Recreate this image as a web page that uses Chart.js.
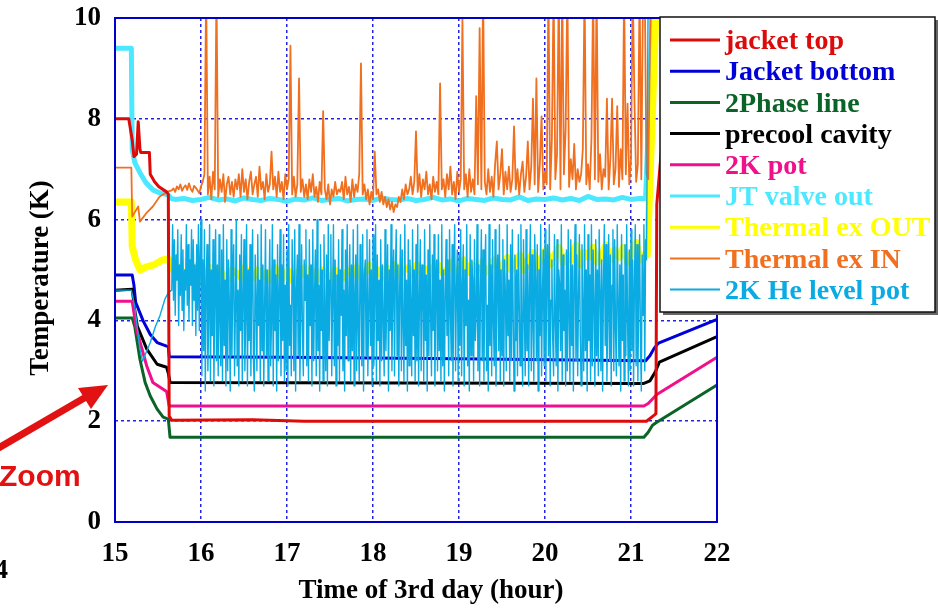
<!DOCTYPE html>
<html lang="en">
<head>
    <meta charset="UTF-8">
    <title>Cryomodule temperatures - 3rd day</title>
    <script src="https://cdn.jsdelivr.net/npm/chart.js"></script>
    <style>
        html, body { margin: 0; padding: 0; background: #fff; }
        .wrap { width: 938px; height: 609px; position: relative; }
    </style>
</head>
<body>
<div class="wrap"><canvas id="tempChart" width="938" height="609"></canvas></div>
<script>
// ---------- axes ----------
const xTicks = [15, 16, 17, 18, 19, 20, 21, 22];
const yTicks = [0, 2, 4, 6, 8, 10];

// ---------- smooth sensors (time in hour, value in K) ----------
const jacketTopT = [15.0, 15.16, 15.2, 15.22, 15.25, 15.27, 15.29, 15.3, 15.4, 15.41, 15.46, 15.51, 15.6, 15.62, 15.63, 15.66, 16.6, 17.2, 18.5, 21.18, 21.27, 21.29, 21.3, 21.36, 22.0];
const jacketTopK = [8.0, 8.0, 7.58, 7.25, 7.3, 7.94, 7.4, 7.33, 7.33, 6.9, 6.75, 6.65, 6.55, 6.5, 2.1, 2.02, 2.03, 2.0, 2.0, 2.0, 2.12, 2.15, 6.3, 7.5, 7.8];

const jacketBottomT = [15.0, 15.2, 15.22, 15.24, 15.33, 15.41, 15.49, 15.6, 15.62, 15.63, 17.0, 19.0, 21.17, 21.22, 21.27, 21.32, 22.0];
const jacketBottomK = [4.9, 4.9, 4.7, 4.36, 3.98, 3.72, 3.56, 3.49, 3.48, 3.28, 3.27, 3.24, 3.2, 3.3, 3.45, 3.55, 4.02];

const twoPhaseT = [15.0, 15.2, 15.23, 15.29, 15.35, 15.41, 15.49, 15.56, 15.62, 15.64, 21.15, 21.2, 21.25, 21.3, 22.0];
const twoPhaseK = [4.05, 4.05, 3.88, 3.23, 2.77, 2.5, 2.24, 2.08, 2.04, 1.68, 1.68, 1.78, 1.92, 1.98, 2.72];

const precoolT = [15.0, 15.2, 15.23, 15.26, 15.37, 15.49, 15.6, 15.62, 15.64, 21.15, 21.22, 21.28, 21.33, 22.0];
const precoolK = [4.6, 4.62, 4.2, 3.88, 3.43, 3.13, 3.07, 2.95, 2.77, 2.75, 2.8, 2.97, 3.17, 3.68];

const pot2kT = [15.0, 15.2, 15.25, 15.37, 15.44, 15.6, 15.63, 21.15, 21.2, 21.3, 22.0];
const pot2kK = [4.38, 4.38, 3.82, 3.09, 2.77, 2.59, 2.3, 2.3, 2.35, 2.53, 3.27];

// ---------- JT valve out: cool-down, logged plateau (every 0.1 h), warm-up ----------
const jtHeadT = [15.0, 15.19, 15.2, 15.23, 15.29, 15.36, 15.44, 15.52, 15.62, 15.65];
const jtHeadK = [9.4, 9.4, 7.4, 7.13, 6.93, 6.73, 6.59, 6.53, 6.49, 6.42];
const jtStart = 15.7, jtStep = 0.1;
const jtK = [
    6.40, 6.42, 6.38, 6.40, 6.44, 6.39, 6.41, 6.37, 6.43, 6.40,
    6.38, 6.42, 6.40, 6.36, 6.41, 6.39, 6.43, 6.38, 6.40, 6.42,
    6.37, 6.40, 6.41, 6.38, 6.43, 6.40, 6.39, 6.42, 6.38, 6.40,
    6.44, 6.39, 6.41, 6.37, 6.42, 6.40, 6.38, 6.43, 6.40, 6.39,
    6.45, 6.38, 6.41, 6.40, 6.43, 6.39, 6.42, 6.38, 6.46, 6.40,
    6.41, 6.39, 6.44, 6.40, 6.42
];
const jtTailT = [21.17, 21.26];
const jtTailK = [6.42, 10.6];

// ---------- Thermal ex OUT (every 0.05 h) ----------
const hxOutHeadT = [15.0, 15.19, 15.2, 15.24, 15.29, 15.35, 15.45, 15.55, 15.62];
const hxOutHeadK = [6.35, 6.35, 5.47, 5.2, 5.0, 5.05, 5.1, 5.2, 5.22];
const hxOutStart = 15.66, hxOutStep = 0.05;
const hxOutK = [
    5.10, 4.85, 5.05, 4.80, 5.00, 4.90, 5.10, 4.80, 4.95, 5.05, 4.85, 5.00, 4.90, 4.80, 5.00, 4.95, 4.85, 5.05, 4.90, 4.85,
    5.00, 4.85, 4.95, 4.80, 5.05, 4.90, 4.85, 5.00, 4.80, 4.95, 4.90, 5.05, 4.85, 4.95, 4.80, 5.00, 4.90, 4.85, 5.00, 4.95,
    4.85, 5.00, 4.90, 5.05, 4.85, 4.95, 5.10, 4.90, 5.00, 4.85, 5.05, 4.95, 5.10, 4.90, 5.00, 5.05, 4.90, 5.10, 4.95, 5.00,
    5.05, 4.90, 5.10, 4.95, 5.00, 5.15, 4.90, 5.05, 5.20, 4.95, 5.10, 5.00, 5.15, 4.95, 5.05, 5.20, 5.00, 5.10, 5.25, 5.00,
    5.15, 5.30, 5.00, 5.20, 5.35, 5.05, 5.25, 5.40, 5.10, 5.30, 5.45, 5.15, 5.30, 5.20, 5.50, 5.10, 5.35, 5.25, 5.45, 5.15,
    5.30, 5.50, 5.20, 5.40, 5.25, 5.45, 5.15, 5.35, 5.55, 5.20, 5.30
];
const hxOutTailT = [21.19, 21.3];
const hxOutTailK = [5.3, 10.6];

// ---------- Thermal ex IN (every 0.02 h from 15.66) ----------
const hxInHeadT = [15.0, 15.19, 15.2, 15.27, 15.29, 15.37, 15.44, 15.52, 15.62];
const hxInHeadK = [7.03, 7.03, 6.06, 6.26, 5.96, 6.14, 6.26, 6.46, 6.56];
const hxInStart = 15.66, hxInStep = 0.02;
const hxInK = [
    6.58, 6.62, 6.55, 6.66, 6.60, 6.70, 6.57, 6.64, 6.68, 6.59, 6.72, 6.61, 6.55, 6.67, 6.63, 6.58, 6.52, 6.66,
    6.75, 6.90, 10.6, 6.50, 6.85, 6.40, 6.95, 6.60, 10.6, 6.45, 6.80, 6.55, 6.90, 6.35, 6.70, 6.85, 6.50, 6.75, 6.45, 6.80,
    6.60, 6.90, 6.45, 7.00, 6.55, 6.80, 6.40, 6.75, 6.95, 6.50, 6.70, 6.85, 6.45, 7.05, 6.60, 6.75, 6.40, 6.90, 6.55, 6.70,
    7.35, 6.60, 6.85, 6.45, 6.95, 6.55, 6.75, 6.40, 6.90, 6.60, 6.80, 9.45, 6.50, 6.85, 6.45, 6.70, 8.80, 6.55, 6.80, 6.45,
    6.70, 6.40, 6.80, 6.55, 6.90, 6.45, 6.65, 6.35, 6.75, 6.50, 8.15, 6.60, 6.40, 6.70, 6.30, 6.60, 6.45, 6.75, 6.50, 6.60,
    6.55, 6.75, 6.40, 6.85, 6.50, 6.65, 6.35, 6.80, 6.45, 6.70, 6.55, 6.90, 9.10, 6.50, 6.70, 6.40, 6.60, 6.30, 6.55, 6.40,
    7.35, 6.50, 6.60, 6.35, 6.55, 6.30, 6.45, 6.25, 6.40, 6.20, 6.35, 6.15, 6.30, 6.25, 6.45, 6.35, 6.60, 6.40, 6.70, 6.50,
    6.60, 6.85, 6.50, 6.75, 7.75, 6.55, 6.90, 6.45, 6.80, 6.60, 6.95, 6.50, 6.70, 6.40, 6.85, 6.55, 6.75, 6.50, 8.70, 6.60,
    6.80, 6.45, 6.90, 6.60, 7.05, 6.50, 6.75, 6.40, 6.95, 6.55, 6.80, 10.0, 6.60, 6.90, 6.45, 7.00, 6.55, 6.80, 6.50, 8.45,
    6.70, 9.80, 6.60, 10.6, 6.75, 6.50, 7.00, 6.55, 6.85, 6.45, 7.10, 7.55, 6.60, 6.90, 7.40, 6.50, 6.95, 6.60, 7.05, 6.55,
    6.80, 7.85, 6.60, 7.00, 6.50, 6.90, 7.15, 6.55, 6.85, 7.55, 6.60, 7.05, 8.40, 6.70, 8.80, 6.55, 7.10, 8.05, 6.60, 6.95,
    6.70, 10.6, 6.60, 7.60, 10.6, 6.80, 7.30, 10.6, 6.60, 10.6, 6.90, 7.80, 10.6, 6.65, 7.20, 6.80, 7.50, 6.60, 7.00, 6.75,
    6.90, 7.40, 10.6, 6.70, 7.10, 6.60, 7.60, 10.6, 6.80, 10.6, 6.75, 7.30, 6.60, 7.00, 6.85, 8.40, 6.60, 7.20, 8.40, 6.70,
    7.00, 8.25, 6.65, 7.40, 6.80, 10.6, 6.90, 8.30, 6.70, 7.20, 10.6, 8.40, 6.75, 7.10, 10.6, 6.80, 10.6, 10.6, 6.90
];
const hxInTailT = [21.2, 21.23];
const hxInTailK = [6.8, 10.6];

// ---------- 2K He level pot (every 0.01 h from 15.66) ----------
const heLevelHeadT = [15.0, 15.19, 15.23, 15.29, 15.32, 15.41, 15.47, 15.52, 15.58, 15.62];
const heLevelHeadK = [4.6, 4.6, 4.28, 3.43, 3.19, 3.56, 3.88, 4.08, 4.42, 4.55];
const heStart = 15.66, heStep = 0.01;
const heLevelK = [
    4.6, 5.9, 4.4, 5.6, 4.1, 5.3, 4.8, 5.8, 3.9, 5.1, 4.5, 5.7, 4.2, 5.4, 3.8, 5.0, 4.6,
    5.9, 4.3, 5.5, 4.0, 5.2, 4.7, 5.8, 3.9, 5.6, 4.4, 5.1, 3.7, 5.5, 4.2, 5.9, 3.8, 5.3,
    6.0, 2.9, 5.2, 3.4, 5.8, 2.6, 4.7, 5.5, 3.0, 4.1, 5.9, 2.8, 5.0, 3.7, 5.6, 2.7, 4.4, 5.8, 3.2, 5.1, 2.9, 5.7, 4.0, 3.1, 5.4,
    2.8, 5.9, 3.5, 4.8, 2.7, 5.6, 3.0, 5.2, 4.3, 2.6, 5.8, 3.3, 4.9, 5.5, 2.9, 4.2, 6.0, 3.1, 4.6, 2.7, 5.3, 3.8, 5.7, 2.8, 4.5,
    5.6, 3.0, 4.1, 5.9, 2.7, 5.0, 3.6, 5.5, 2.9, 4.7, 5.8, 3.2, 2.6, 5.3, 4.4, 3.0, 5.7, 3.9, 4.8, 2.8, 5.9, 3.4, 5.1, 2.7, 4.3,
    5.8, 3.3, 5.0, 2.8, 4.6, 5.6, 3.1, 4.0, 5.9, 2.7, 5.2, 3.8, 4.9, 2.6, 5.5, 3.2, 4.5, 5.8, 2.9, 5.1, 3.6, 5.7, 2.8, 4.7, 3.0,
    5.4, 2.7, 5.9, 3.5, 4.3, 2.9, 5.6, 4.8, 3.0, 5.8, 2.6, 4.6, 5.3, 3.3, 5.9, 2.8, 4.1, 5.5, 3.7, 2.9, 5.2, 4.4, 5.8, 3.1, 4.9,
    2.8, 5.6, 3.9, 5.1, 2.7, 5.8, 3.2, 4.5, 5.4, 2.9, 6.0, 3.4, 4.7, 2.6, 5.5, 3.8, 5.0, 2.8, 5.7, 4.2, 3.0, 5.3, 2.7, 5.9, 3.6,
    4.8, 5.7, 2.9, 4.4, 5.9, 3.1, 5.2, 2.7, 4.9, 3.5, 5.6, 2.8, 5.0, 4.1, 5.8, 3.0, 4.6, 2.6, 5.4, 3.7, 5.9, 3.2, 4.3, 5.5, 2.8,
    5.1, 3.4, 5.8, 2.7, 4.5, 5.3, 3.0, 5.9, 3.8, 2.8, 5.5, 4.7, 3.1, 5.7, 2.6, 4.9, 5.2, 3.3, 5.8, 2.9, 4.2, 5.6, 3.5, 5.0, 2.7,
    5.7, 3.1, 4.6, 5.9, 2.8, 5.3, 3.6, 4.8, 2.7, 5.6, 3.2, 5.1, 4.0, 2.9, 5.8, 3.4, 4.4, 5.5, 2.6, 5.0, 3.8, 5.9, 3.0, 4.7, 5.4,
    2.9, 4.9, 5.8, 3.3, 5.1, 2.7, 4.6, 5.7, 3.0, 5.4, 3.9, 2.8, 5.9, 3.5, 4.8, 2.6, 5.6, 3.1, 5.2, 4.3, 2.9, 5.8, 3.7, 5.0, 2.8,
    5.5, 3.2, 5.9, 2.7, 4.4, 5.6, 3.0, 5.1, 4.7, 2.8, 5.8, 3.6, 4.9, 2.6, 5.4, 3.3, 5.9, 4.1, 2.9, 5.3, 3.8, 5.7, 2.7, 4.6, 5.2,
    3.0, 5.7, 3.4, 4.8, 2.8, 5.9, 3.1, 5.0, 2.6, 4.5, 5.6, 3.7, 5.2, 2.9, 5.8, 4.2, 3.2, 5.5, 2.7, 4.9, 5.9, 3.0, 4.6, 5.4, 2.8,
    5.3, 3.5, 5.8, 2.9, 4.7, 5.5, 2.7, 5.0, 3.9, 5.9, 3.1, 4.4, 2.6, 5.7, 3.3, 5.2, 4.8, 2.8, 5.6, 3.6, 4.1, 5.9, 3.0, 5.1, 2.7,
    4.6, 5.8, 3.2, 5.4, 2.8, 4.9, 5.7, 3.0, 4.3, 2.6, 5.9, 3.5, 5.1, 2.9, 5.6, 4.0, 3.1, 5.8, 2.7, 4.7, 5.3, 3.4, 5.9, 2.8, 5.0,
    3.3, 5.6, 2.7, 5.2, 4.5, 3.0, 5.9, 3.7, 4.8, 2.8, 5.5, 3.2, 5.8, 4.1, 2.6, 5.3, 3.6, 5.0, 2.9, 5.7, 4.4, 3.1, 5.9, 3.8, 2.7,
    5.6, 4.2, 2.9, 5.8, 3.4, 5.1, 2.7, 4.6, 5.9, 3.0, 5.3, 3.9, 2.8, 5.7, 4.8, 3.2, 5.5, 2.6, 5.0, 3.7, 5.9, 2.9, 4.5, 5.4, 3.1,
    5.8, 2.8, 4.9, 5.5, 3.3, 5.9, 2.7, 4.4, 5.2, 3.6, 2.9, 5.7, 4.0, 3.1, 5.6, 2.6, 5.0, 4.7, 3.4, 5.9, 2.8, 5.3, 3.8, 4.6, 2.7,
    5.4, 3.0, 5.8, 4.1, 2.8, 5.6, 3.5, 5.1, 2.6, 4.8, 5.9, 3.2, 5.3, 2.9, 4.5, 5.7, 3.7, 2.7, 5.5, 4.2, 3.0, 5.9, 3.4, 5.0, 2.6,
    5.7, 3.6, 4.9, 2.8, 5.9, 3.1, 5.4, 4.3, 2.7, 5.6, 3.3, 5.0, 2.9, 5.8, 4.6, 3.0, 5.2, 2.6, 4.8, 5.9, 3.5, 5.5, 2.8, 4.1, 5.7,
    3.2, 5.3, 2.7, 4.7, 5.8, 3.0, 5.6, 3.8, 2.9, 5.9, 4.4, 3.1, 5.1, 2.6, 5.7, 3.6, 4.9, 2.8, 5.5, 3.3, 5.9, 4.0, 2.7, 5.4, 3.0,
    5.8, 3.4, 5.2, 2.7, 4.8, 5.9, 3.1, 5.5, 2.8, 4.5, 5.7, 3.6, 2.6, 5.3, 4.1, 5.9, 3.0, 5.6, 5.2
];
const heLevelTailT = [21.2];
const heLevelTailK = [10.6];

// ---------- helpers ----------
function pairs(t, k) {
    return t.map((x, i) => ({ x: x, y: k[i] }));
}
// logger samples: regular time base, logged values
function logged(start, step, k) {
    return k.map((y, i) => ({ x: +(start + i * step).toFixed(3), y: y }));
}

const serif = '"Liberation Serif", "Times New Roman", serif';
const gridBlue = '#2424e0';
const frameBlue = '#0000c8';

const ctx = document.getElementById('tempChart').getContext('2d');

const frameAndLegend = {
    id: 'frameAndLegend',
    afterDraw(chart) {
        const c = chart.ctx;
        const a = chart.chartArea;
        c.save();

        // plot frame
        c.strokeStyle = frameBlue;
        c.lineWidth = 2;
        c.strokeRect(a.left, a.top, a.right - a.left, a.bottom - a.top);

        // axis titles
        c.fillStyle = '#000';
        c.font = 'bold 27px ' + serif;
        c.textAlign = 'center';
        c.textBaseline = 'alphabetic';
        c.fillText('Time of 3rd day (hour)', 431, 598);
        c.save();
        c.translate(48, 278);
        c.rotate(-Math.PI / 2);
        c.fillText('Temperature (K)', 0, 0);
        c.restore();

        // legend box drawn over the plot
        const bx = 660, by = 17, bw = 275, bh = 295;
        c.fillStyle = '#666';
        c.fillRect(bx + 3, by + 3, bw, bh);
        c.fillStyle = '#fff';
        c.fillRect(bx, by, bw, bh);
        c.strokeStyle = '#111';
        c.lineWidth = 1.5;
        c.strokeRect(bx, by, bw, bh);

        c.font = 'bold 28px ' + serif;
        c.textAlign = 'left';
        c.textBaseline = 'middle';
        chart.data.datasets.forEach((ds, i) => {
            const y = 40 + i * 31.2;
            c.strokeStyle = ds.borderColor;
            c.lineWidth = ds.legendWidth;
            c.beginPath();
            c.moveTo(670, y);
            c.lineTo(720, y);
            c.stroke();
            c.fillStyle = ds.borderColor;
            c.fillText(ds.label, 725, y + 2);
        });

        // "Zoom" call-out from the neighbouring figure
        c.fillStyle = '#e21212';
        c.strokeStyle = '#e21212';
        c.lineWidth = 7;
        c.beginPath();
        c.moveTo(-5, 450);
        c.lineTo(86, 397);
        c.stroke();
        c.beginPath();
        c.moveTo(108, 385);
        c.lineTo(78, 388);
        c.lineTo(91, 409);
        c.closePath();
        c.fill();
        c.font = 'bold 30px "Liberation Sans", Arial, sans-serif';
        c.textBaseline = 'alphabetic';
        c.fillText('Zoom', -1, 486);

        c.fillStyle = '#000';
        c.font = 'bold 27px ' + serif;
        c.textAlign = 'right';
        c.fillText('4', 8, 578);

        c.restore();
    }
};

new Chart(ctx, {
    type: 'line',
    data: {
        datasets: [
            { label: 'jacket top', data: pairs(jacketTopT, jacketTopK), borderColor: '#dd0a0a', borderWidth: 3, legendWidth: 3, order: 1 },
            { label: 'Jacket bottom', data: pairs(jacketBottomT, jacketBottomK), borderColor: '#0000d8', borderWidth: 3, legendWidth: 3, order: 9 },
            { label: '2Phase line', data: pairs(twoPhaseT, twoPhaseK), borderColor: '#0a6428', borderWidth: 3, legendWidth: 3, order: 8 },
            { label: 'precool cavity', data: pairs(precoolT, precoolK), borderColor: '#000000', borderWidth: 3, legendWidth: 3, order: 7 },
            { label: '2K pot', data: pairs(pot2kT, pot2kK), borderColor: '#f0108c', borderWidth: 3, legendWidth: 3, order: 6 },
            { label: 'JT valve out',
              data: pairs(jtHeadT, jtHeadK).concat(logged(jtStart, jtStep, jtK), pairs(jtTailT, jtTailK)),
              borderColor: '#4ce8ff', borderWidth: 5, legendWidth: 3, order: 5 },
            { label: 'Thermal ex OUT',
              data: pairs(hxOutHeadT, hxOutHeadK).concat(logged(hxOutStart, hxOutStep, hxOutK), pairs(hxOutTailT, hxOutTailK)),
              borderColor: '#ffff00', borderWidth: 7, legendWidth: 3, order: 4 },
            { label: 'Thermal ex IN',
              data: pairs(hxInHeadT, hxInHeadK).concat(logged(hxInStart, hxInStep, hxInK), pairs(hxInTailT, hxInTailK)),
              borderColor: '#f07020', borderWidth: 1.8, legendWidth: 2, order: 3 },
            { label: '2K He level pot',
              data: pairs(heLevelHeadT, heLevelHeadK).concat(logged(heStart, heStep, heLevelK), pairs(heLevelTailT, heLevelTailK)),
              borderColor: '#0aaae2', borderWidth: 1.4, legendWidth: 2, order: 2 }
        ]
    },
    options: {
        responsive: false,
        animation: false,
        devicePixelRatio: 1,
        elements: {
            point: { radius: 0 },
            line: { tension: 0, borderJoinStyle: 'round', fill: false }
        },
        layout: { padding: { top: 18, right: 221, bottom: 0, left: 0 } },
        plugins: {
            legend: { display: false },
            tooltip: { enabled: false }
        },
        scales: {
            x: {
                type: 'linear', min: 15, max: 22, z: 1,
                afterBuildTicks: s => { s.ticks = xTicks.map(v => ({ value: v })); },
                afterFit: s => { s.height = 87; s.paddingLeft = 0; s.paddingRight = 0; },
                grid: { color: gridBlue, lineWidth: 1.5, drawTicks: false },
                border: { display: false, dash: [3, 3] },
                ticks: { color: '#000', font: { family: serif, size: 27, weight: 'bold' }, padding: 16, maxRotation: 0, autoSkip: false }
            },
            y: {
                type: 'linear', min: 0, max: 10, z: 1,
                afterBuildTicks: s => { s.ticks = yTicks.map(v => ({ value: v })); },
                afterFit: s => { s.width = 115; s.paddingTop = 0; s.paddingBottom = 0; },
                grid: { color: gridBlue, lineWidth: 1.5, drawTicks: false },
                border: { display: false, dash: [3, 3] },
                ticks: { color: '#000', font: { family: serif, size: 27, weight: 'bold' }, padding: 14 }
            }
        }
    },
    plugins: [frameAndLegend]
});
</script>
</body>
</html>
